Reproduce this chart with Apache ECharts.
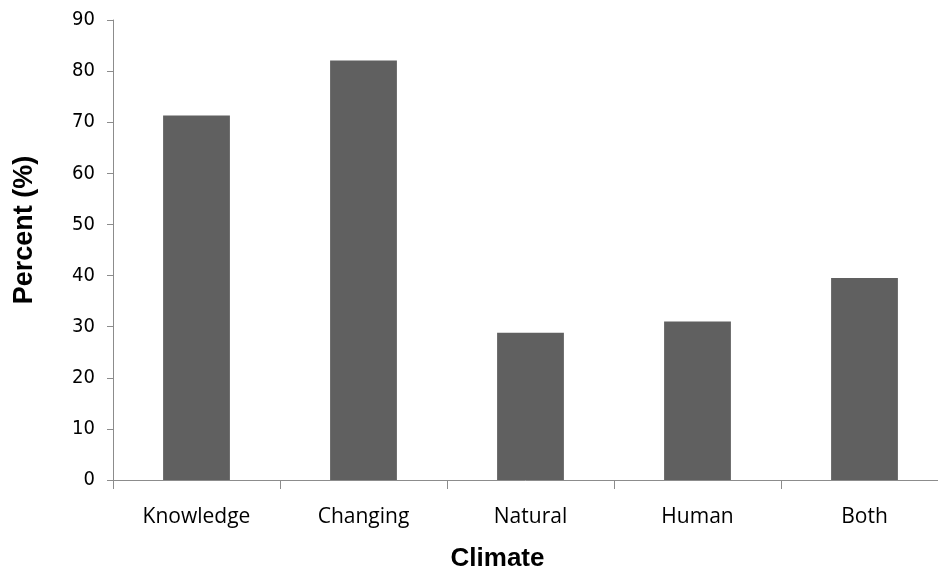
<!DOCTYPE html>
<html><head><meta charset="utf-8">
<script src="https://cdn.jsdelivr.net/npm/echarts@6/dist/echarts.min.js"></script>
<style>html,body{margin:0;padding:0;background:#fff;overflow:hidden}#c{width:938px;height:571px}</style>
</head><body><div id="c"></div>
<script>
const categories = ["Knowledge", "Changing", "Natural", "Human", "Both"];
const percentValues = [71.3, 82.1, 28.8, 31.0, 39.5];
const yTicks = [0, 10, 20, 30, 40, 50, 60, 70, 80, 90];

const chart = echarts.init(document.getElementById('c'), null, {renderer: 'canvas'});
chart.setOption({
  animation: false,
  backgroundColor: '#ffffff',
  grid: {left: 113, top: 20, width: 835, height: 460, containLabel: false, outerBoundsMode: 'none'},
  xAxis: {
    type: 'category',
    data: categories,
    name: 'Climate',
    nameLocation: 'middle',
    nameGap: 66,
    nameTextStyle: {fontFamily: 'Liberation Sans, Arial', fontWeight: 'bold', fontSize: 26, color: '#000',
      padding: [0, 66, 0, 0]},
    axisLine: {lineStyle: {color: '#8c8c8c', width: 1}},
    axisTick: {show: true, length: 9, lineStyle: {color: '#8c8c8c'}},
    axisLabel: {fontFamily: 'Open Sans', fontSize: 21, color: '#000', margin: 27}
  },
  yAxis: {
    type: 'value',
    min: 0, max: 90, interval: 10,
    name: 'Percent (%)',
    nameLocation: 'middle',
    nameGap: 75,
    nameTextStyle: {fontFamily: 'Liberation Sans, Arial', fontWeight: 'bold', fontSize: 27, color: '#000',
      padding: [0, 0, 0, 40]},
    axisLine: {show: true, lineStyle: {color: '#8c8c8c', width: 1}},
    axisTick: {show: true, length: 6, lineStyle: {color: '#8c8c8c'}},
    splitLine: {show: false},
    axisLabel: {fontFamily: 'DejaVu Sans Condensed', fontSize: 20, color: '#000', margin: 18,
      formatter: v => yTicks.includes(v) ? String(v) : ''}
  },
  series: [{
    type: 'bar',
    data: percentValues,
    barWidth: '40%',
    itemStyle: {color: '#606060'}
  }]
});
</script></body></html>
